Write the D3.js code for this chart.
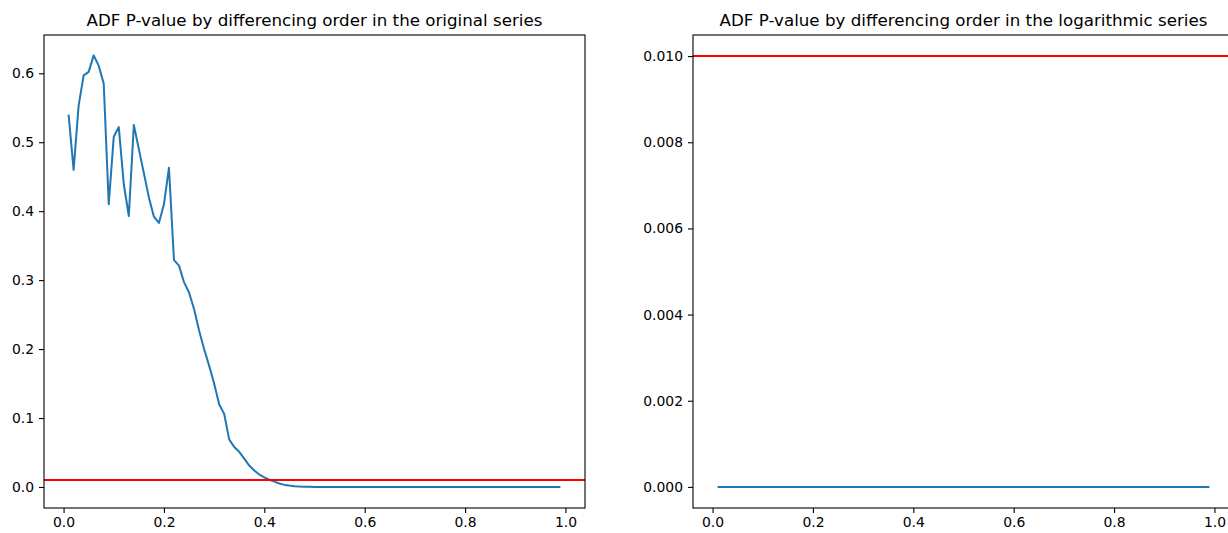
<!DOCTYPE html>
<html lang="en">
<head>
<meta charset="utf-8">
<title>ADF P-value by differencing order</title>
<script src="https://cdn.jsdelivr.net/npm/d3@7"></script>
<style>
  body { margin: 0; background: #fff; }
  text { font-family: "DejaVu Sans", sans-serif; fill: #000; }
</style>
</head>
<body>
<script>

// differencing orders (x) shared by both panels
var orders = [0.01,0.02,0.03,0.04,0.05,0.06,0.07,0.08,0.09,0.10,
  0.11,0.12,0.13,0.14,0.15,0.16,0.17,0.18,0.19,0.20,
  0.21,0.22,0.23,0.24,0.25,0.26,0.27,0.28,0.29,0.30,
  0.31,0.32,0.33,0.34,0.35,0.36,0.37,0.38,0.39,0.40,
  0.41,0.42,0.43,0.44,0.45,0.46,0.47,0.48,0.49,0.50,
  0.51,0.52,0.53,0.54,0.55,0.56,0.57,0.58,0.59,0.60,
  0.61,0.62,0.63,0.64,0.65,0.66,0.67,0.68,0.69,0.70,
  0.71,0.72,0.73,0.74,0.75,0.76,0.77,0.78,0.79,0.80,
  0.81,0.82,0.83,0.84,0.85,0.86,0.87,0.88,0.89,0.90,
  0.91,0.92,0.93,0.94,0.95,0.96,0.97,0.98,0.99];

// p-values, original series
var pOriginal = [0.540,0.460,0.553,0.597,0.602,0.626,0.611,0.585,0.410,0.508,
  0.522,0.439,0.393,0.525,0.490,0.455,0.420,0.392,0.383,0.410,
  0.463,0.329,0.321,0.297,0.282,0.258,0.227,0.200,0.176,0.150,
  0.120,0.106,0.069,0.058,0.051,0.041,0.031,0.024,0.018,0.014,
  0.0105,0.0077,0.005,0.003,0.002,0.0012,0.0007,0.0004,0.0002,0.0001,
  0,0,0,0,0,0,0,0,0,0,
  0,0,0,0,0,0,0,0,0,0,
  0,0,0,0,0,0,0,0,0,0,
  0,0,0,0,0,0,0,0,0,0,
  0,0,0,0,0,0,0,0,0];

// p-values, logarithmic series
var pLog = [0,0,0,0,0,0,0,0,0,0,
  0,0,0,0,0,0,0,0,0,0,
  0,0,0,0,0,0,0,0,0,0,
  0,0,0,0,0,0,0,0,0,0,
  0,0,0,0,0,0,0,0,0,0,
  0,0,0,0,0,0,0,0,0,0,
  0,0,0,0,0,0,0,0,0,0,
  0,0,0,0,0,0,0,0,0,0,
  0,0,0,0,0,0,0,0,0,0,
  0,0,0,0,0,0,0,0,0];

var threshold = 0.01;

var xTicks = [0.0, 0.2, 0.4, 0.6, 0.8, 1.0];
var yTicksOriginal = [0.0, 0.1, 0.2, 0.3, 0.4, 0.5, 0.6];
var yTicksLog = [0.000, 0.002, 0.004, 0.006, 0.008, 0.010];

var w = 1228, h = 533;
var plotTop = 35, plotBottom = 508;
var panelW = 541;

var svg = d3.select("body").append("svg")
    .attr("width", w)
    .attr("height", h);

function panel(left, title, values, yDomain, yTicks, yFmt) {
  var x = d3.scaleLinear().domain([-0.039, 1.039]).range([left, left + panelW]);
  var y = d3.scaleLinear().domain(yDomain).range([plotBottom, plotTop]);

  var g = svg.append("g");

  g.append("path")
      .datum(orders)
      .attr("fill", "none")
      .attr("stroke", "#1f77b4")
      .attr("stroke-width", 2)
      .attr("stroke-linejoin", "round")
      .attr("d", d3.line()
        .x(function(d) { return x(d); })
        .y(function(d, i) { return y(values[i]); }));

  g.append("line")
      .attr("x1", left).attr("x2", left + panelW)
      .attr("y1", y(threshold)).attr("y2", y(threshold))
      .attr("stroke", "#ff0000")
      .attr("stroke-width", 2);

  g.append("rect")
      .attr("x", left).attr("y", plotTop)
      .attr("width", panelW).attr("height", plotBottom - plotTop)
      .attr("fill", "none")
      .attr("stroke", "#000")
      .attr("stroke-width", 1.1);

  var xAxis = g.append("g")
      .attr("transform", "translate(0," + plotBottom + ")")
      .call(d3.axisBottom(x).tickValues(xTicks).tickFormat(d3.format(".1f"))
        .tickSize(5).tickPadding(4).tickSizeOuter(0));

  var yAxis = g.append("g")
      .attr("transform", "translate(" + left + ",0)")
      .call(d3.axisLeft(y).tickValues(yTicks).tickFormat(d3.format(yFmt))
        .tickSize(5).tickPadding(5).tickSizeOuter(0));

  [xAxis, yAxis].forEach(function(a) {
    a.select(".domain").remove();
    a.selectAll("line").attr("stroke", "#000").attr("stroke-width", 1.1);
    a.selectAll("text").style("font-size", "13.9px").style("font-family", "DejaVu Sans");
  });

  g.append("text")
      .attr("x", left + panelW / 2)
      .attr("y", plotTop - 9)
      .attr("text-anchor", "middle")
      .style("font-size", "16.7px")
      .text(title);
}

panel(44, "ADF P-value by differencing order in the original series",
      pOriginal, [-0.0305, 0.6555], yTicksOriginal, ".1f");
panel(693, "ADF P-value by differencing order in the logarithmic series",
      pLog, [-0.00049, 0.01049], yTicksLog, ".3f");

</script>
</body>
</html>
